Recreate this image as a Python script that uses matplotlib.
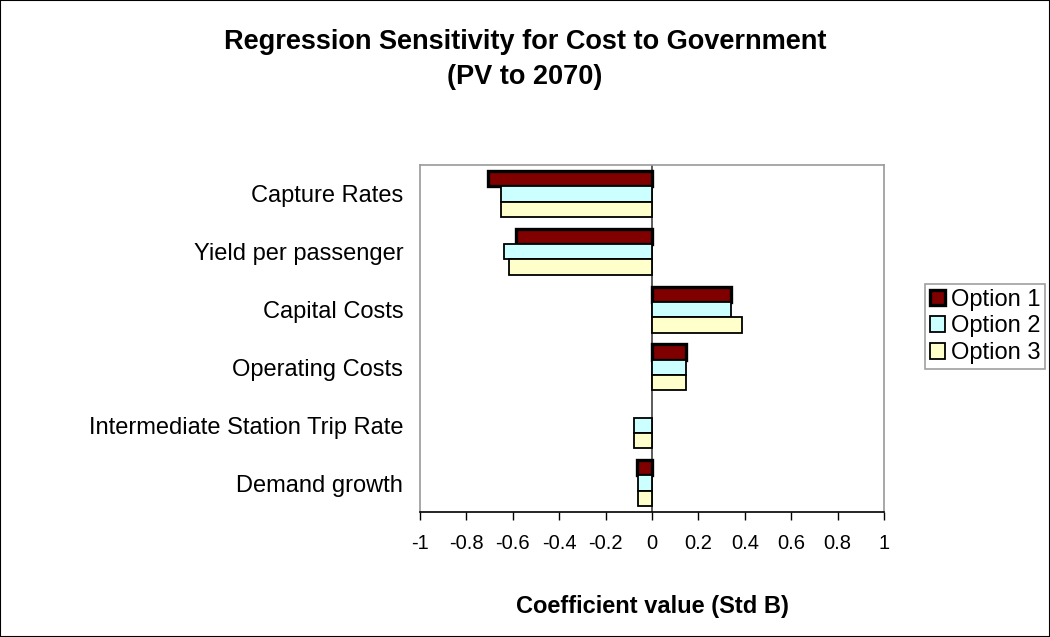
import matplotlib
matplotlib.use('Agg')
import matplotlib.pyplot as plt
import numpy as np

plt.rcParams['font.family'] = ['Liberation Sans', 'DejaVu Sans']

# Data (nilai koefisien Std B)
kategori = ['Capture Rates', 'Yield per passenger', 'Capital Costs',
            'Operating Costs', 'Intermediate Station Trip Rate', 'Demand growth']
option1 = [-0.707, -0.587, 0.34, 0.146, 0.0, -0.065]
option2 = [-0.65, -0.64, 0.34, 0.145, -0.078, -0.062]
option3 = [-0.65, -0.617, 0.39, 0.145, -0.078, -0.062]
seri = ['Option 1', 'Option 2', 'Option 3']
warna = ['#800000', '#CCFFFF', '#FFFFCC']
tebal = [2.4, 1.3, 1.3]
xticks = [-1, -0.8, -0.6, -0.4, -0.2, 0, 0.2, 0.4, 0.6, 0.8, 1]

fig = plt.figure(figsize=(10.5, 6.37), dpi=100)
ax = fig.add_axes([420/1050, 1 - 512/637, 464/1050, 347/637])

y = np.arange(len(kategori))
h = 0.265
for i, (vals, lab, c, lw) in enumerate(zip([option1, option2, option3], seri, warna, tebal)):
    # bar bernilai nol tidak diberi garis tepi
    lws = [lw if v != 0 else 0 for v in vals]
    ax.barh(y + (i - 1) * h, vals, h, color=c, edgecolor='black',
            linewidth=lws, label=lab)

ax.axvline(0, color='#404040', linewidth=1.2, zorder=0.5)
ax.set_xlim(-1, 1)
ax.set_ylim(len(kategori) - 0.5, -0.5)
ax.set_yticks(y)
ax.set_yticklabels(kategori, fontsize=17)
ax.tick_params(axis='y', length=0, pad=12)
ax.set_xticks(xticks)
ax.set_xticklabels([f'{t:g}' for t in xticks], fontsize=14.5)
ax.tick_params(axis='x', length=6, width=1, direction='out', pad=10)

for s in ['left', 'top', 'right']:
    ax.spines[s].set_color('#999999')
    ax.spines[s].set_linewidth(1.2)
ax.spines['bottom'].set_color('black')
ax.spines['bottom'].set_linewidth(1.2)

ax.set_xlabel('Coefficient value (Std B)', fontsize=17, fontweight='bold', labelpad=30)

fig.text(525/1050, 1 - 42/637, 'Regression Sensitivity for Cost to Government',
         ha='center', va='center', fontsize=19.5, fontweight='bold')
fig.text(525/1050, 1 - 77/637, '(PV to 2070)',
         ha='center', va='center', fontsize=19.5, fontweight='bold')

leg = fig.legend(loc='upper left', bbox_to_anchor=(925/1050, 1 - 284/637),
                 fontsize=17, frameon=True, fancybox=False, handlelength=0.65,
                 handleheight=0.65, handletextpad=0.25, borderpad=0.2,
                 labelspacing=0.2, borderaxespad=0)
leg.get_frame().set_edgecolor('#888888')
leg.get_frame().set_linewidth(1.2)

fig.patches.append(plt.Rectangle((0, 0), 1, 1, transform=fig.transFigure,
                                 fill=False, edgecolor='black', linewidth=1.5))

fig.savefig('out.png', dpi=100)
